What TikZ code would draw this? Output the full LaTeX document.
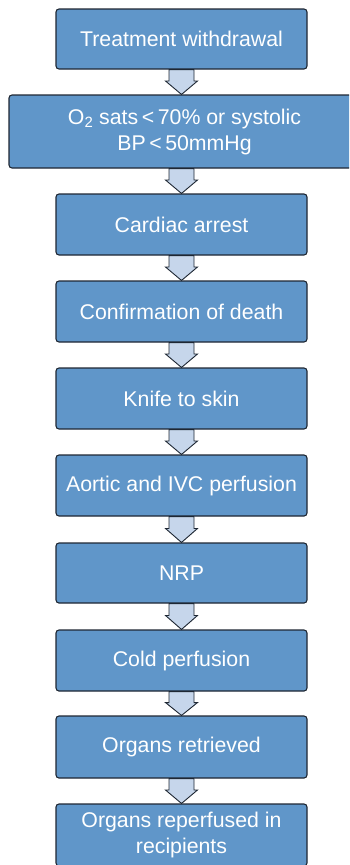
\documentclass[tikz,border=0pt]{standalone}
\usepackage{fontspec}
\setmainfont{Liberation Sans}
\usetikzlibrary{calc}
\definecolor{boxfill}{HTML}{6096C9}
\definecolor{boxline}{HTML}{1E2733}
\definecolor{arrowfill}{HTML}{C6D6EB}
\tikzset{
  stepbox/.style={rectangle, rounded corners=3pt, draw=boxline, line width=1.1pt,
    fill=boxfill, text=white, align=center, inner sep=0pt,
    minimum width=251pt, minimum height=61pt,
    font=\fontsize{21.3}{26}\selectfont},
  flowarrow/.style={draw=boxline, line width=0.9pt, fill=arrowfill, line join=miter}
}
\begin{document}
\begin{tikzpicture}[x=1pt, y=-1pt]
\useasboundingbox (0,0) rectangle (349,865);
\begin{scope}
\clip (0,0) rectangle (349,865);
\node[stepbox, minimum height=60pt] (s1) at (181.5,39) {Treatment withdrawal};
\node[stepbox, minimum width=351pt, minimum height=73pt] (s2) at (184.5,131.5)
  {O\textsubscript{2} sats\,<\,70\% or systolic\\BP\,<\,50mmHg};
\node[stepbox] (s3) at (181.5,224.5) {Cardiac arrest};
\node[stepbox] (s4) at (181.5,311.5) {Confirmation of death};
\node[stepbox] (s5) at (181.5,398.5) {Knife to skin};
\node[stepbox] (s6) at (181.5,485.5) {Aortic and IVC perfusion};
\node[stepbox, minimum height=60pt] (s7) at (181.5,573) {NRP};
\node[stepbox] (s8) at (181.5,660.5) {Cold perfusion};
\node[stepbox, minimum height=62pt] (s9) at (181.5,747) {Organs retrieved};
\node[stepbox, minimum height=62pt] (s10) at (181.5,835) {Organs reperfused in\\recipients};
% block arrows between consecutive steps
\foreach \a/\b in {s1/s2,s2/s3,s3/s4,s4/s5,s5/s6,s6/s7,s7/s8,s8/s9,s9/s10}{
  \path[flowarrow] let \p1=(\a.south), \p2=(s1.south), \p3=(\b.north) in
    (\x2-12.5,\y1) -- (\x2+12.5,\y1) -- (\x2+12.5,{\y1+0.46*(\y3-\y1)})
    -- (\x2+16,{\y1+0.46*(\y3-\y1)}) -- (\x2,\y3) -- (\x2-16,{\y1+0.46*(\y3-\y1)})
    -- (\x2-12.5,{\y1+0.46*(\y3-\y1)}) -- cycle;
}
\end{scope}
\end{tikzpicture}
\end{document}
